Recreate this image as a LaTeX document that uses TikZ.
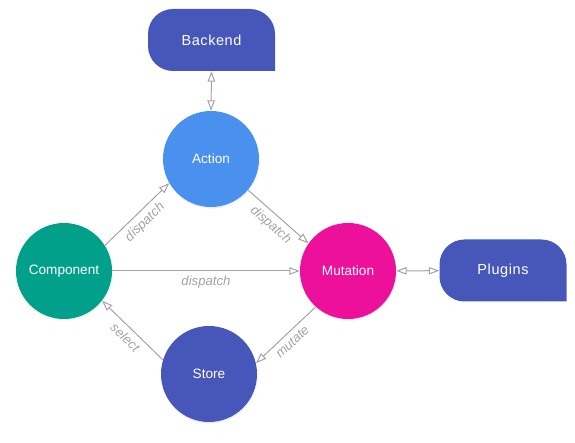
\documentclass[tikz,border=0pt]{standalone}
\usepackage{fontspec}
\setmainfont{Liberation Sans}
\usetikzlibrary{arrows.meta,shadows}

\definecolor{actblue}{HTML}{4A90EE}
\definecolor{compteal}{HTML}{00A08B}
\definecolor{mutpink}{HTML}{EC109B}
\definecolor{indig}{HTML}{4657B9}
\definecolor{linkgray}{HTML}{A3A3A3}

\begin{document}
\begin{tikzpicture}[x=1pt, y=-1pt,
    ball/.style={circle, minimum size=96pt, inner sep=0pt, text=white,
        font=\fontsize{13.6}{15}\selectfont,
        drop shadow={opacity=0.12, shadow xshift=0.6pt, shadow yshift=-1.6pt}},
    tab/.style={rectangle, minimum width=127pt, minimum height=62pt, inner sep=0pt, text=white,
        font=\fontsize{14.5}{17}\selectfont\addfontfeature{LetterSpace=4},
        path picture={\fill[indig, rounded corners=25pt]
            (path picture bounding box.south east) -- (path picture bounding box.north east)
            -- (path picture bounding box.north west) -- (path picture bounding box.south west)
            -- (path picture bounding box.south east);}},
    link/.style={draw=linkgray, line width=1pt, -{Triangle[open, length=10.5pt, width=7.5pt]}},
    both/.style={link, {Triangle[open, length=10.5pt, width=7.5pt]}-{Triangle[open, length=10.5pt, width=7.5pt]}},
    lbl/.style={font=\itshape\fontsize{13.2}{15}\selectfont, text=linkgray, sloped, below=1.5pt}]
    \useasboundingbox (0,0) rectangle (575,443);

    \node[tab] at (211.5, 40)(back){Backend};
    \node[tab] at (503, 270.5)(plug){Plugins};
    \node[ball, fill=actblue] at (211, 159)(act){Action};
    \node[ball, fill=compteal] at (64, 271)(comp){Component};
    \node[ball, fill=mutpink] at (348, 271)(mut){Mutation};
    \node[ball, fill=indig] at (209, 374)(store){Store};

    \draw[both] (back.south) -- (act.north);
    \draw[both] (mut) -- (plug);
    \draw[link] (comp.32) -- node[lbl]{dispatch} (act.210);
    \draw[link] (act.320) -- node[lbl]{dispatch} (mut.145);
    \draw[link] (comp) -- node[lbl]{dispatch} (mut);
    \draw[link] (mut.228) -- node[lbl]{mutate} (store.13);
    \draw[link] (store.163) -- node[lbl]{select} (comp.322);
\end{tikzpicture}
\end{document}
